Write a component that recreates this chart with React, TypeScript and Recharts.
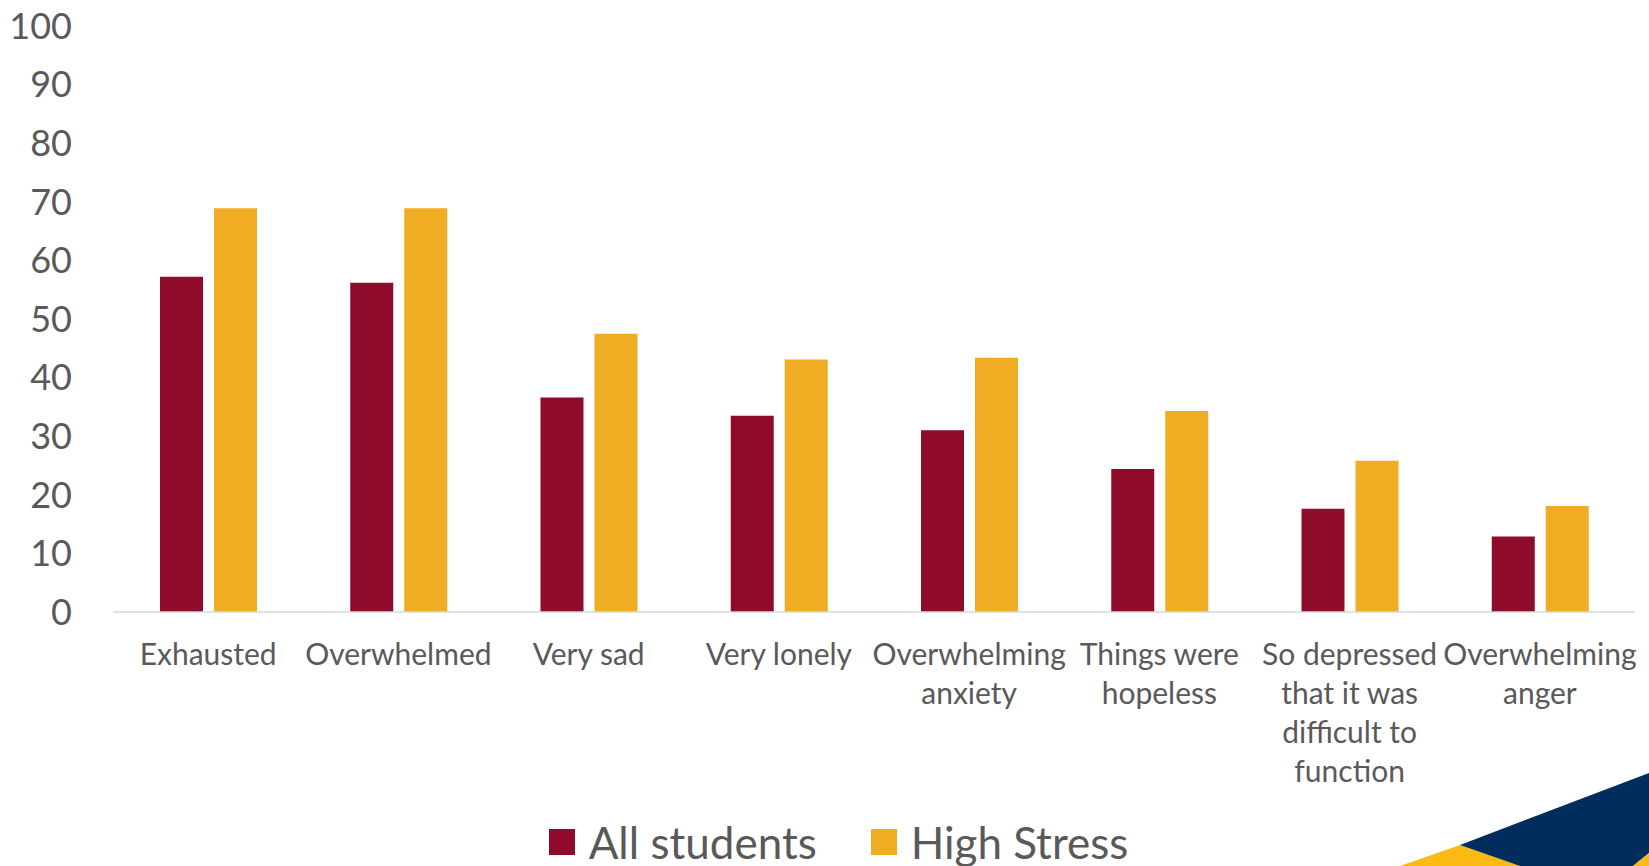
import { BarChart, Bar, XAxis, YAxis, Legend } from "recharts";

const categories = [
    "Exhausted",
    "Overwhelmed",
    "Very sad",
    "Very lonely",
    "Overwhelming\nanxiety",
    "Things were\nhopeless",
    "So depressed\nthat it was\ndifficult to\nfunction",
    "Overwhelming\nanger"
];
const allStudents = [57.2, 56.2, 36.6, 33.5, 31.0, 24.4, 17.6, 12.9];
const highStress = [68.9, 68.9, 47.5, 43.1, 43.4, 34.3, 25.8, 18.1];
const yTicks = [0, 10, 20, 30, 40, 50, 60, 70, 80, 90, 100];

const MAROON = "#8E0B2B";
const GOLD = "#F0AC22";
const TEXT = "#595959";
const FONT = "Lato, 'Open Sans', sans-serif";

const data = categories.map((c, i) => ({
    name: c,
    all: allStudents[i],
    high: highStress[i]
}));

function CategoryTick({ x, y, payload }: any) {
    const lines = String(payload.value).split("\n");
    return (
        <text x={x} y={y + 53} textAnchor="middle" fill={TEXT} fontSize={30} fontFamily={FONT}>
            {lines.map((l, i) => (
                <tspan key={i} x={x} dy={i === 0 ? 0 : 39}>{l}</tspan>
            ))}
        </text>
    );
}

function LegendContent({ payload }: any) {
    return (
        <div style={{ display: "flex", justifyContent: "center", alignItems: "center", fontFamily: FONT, fontSize: 44, color: TEXT, paddingLeft: 28 }}>
            {(payload ?? []).map((p: any, i: number) => (
                <div key={i} style={{ display: "flex", alignItems: "center", marginRight: i === 0 ? 54 : 0 }}>
                    <span style={{ width: 26, height: 26, background: p.color, display: "inline-block", marginRight: 14 }} />
                    <span style={{ lineHeight: "50px" }}>{p.value}</span>
                </div>
            ))}
        </div>
    );
}

export default function App() {
    return (
        <div style={{ position: "absolute", top: 0, left: 0, width: 1649, height: 866, background: "#fff", overflow: "hidden" }}>
            <BarChart
                width={1649}
                height={866}
                data={data}
                margin={{ top: 26, right: 14, left: 0, bottom: 0 }}
                barSize={43}
                barGap={11}
            >
                <XAxis
                    dataKey="name"
                    height={254}
                    tickLine={false}
                    tickSize={0}
                    tickMargin={0}
                    axisLine={{ stroke: "#D9D9D9", strokeWidth: 1.5 }}
                    tick={<CategoryTick />}
                    interval={0}
                />
                <YAxis
                    domain={[0, 100]}
                    ticks={yTicks}
                    width={113}
                    axisLine={false}
                    tickLine={false}
                    tickSize={0}
                    tickMargin={41}
                    tick={{ fill: TEXT, fontSize: 36, fontFamily: FONT }}
                    interval={0}
                />
                <Legend
                    layout="horizontal"
                    verticalAlign="middle"
                    align="center"
                    wrapperStyle={{ top: 817, left: 0, width: 1649 }}
                    content={<LegendContent />}
                />
                <Bar dataKey="all" name="All students" fill={MAROON} isAnimationActive={false} />
                <Bar dataKey="high" name="High Stress" fill={GOLD} isAnimationActive={false} />
            </BarChart>
            <svg width={1649} height={866} style={{ position: "absolute", top: 0, left: 0, pointerEvents: "none" }}>
                <polygon points="1400,866 1460,845 1520,866" fill="#FDB913" />
                <polygon points="1460,845 1649,773 1649,853 1633,866 1520,866" fill="#002D5C" />
                <polygon points="1633,866 1649,853 1649,866" fill="#FDB913" />
            </svg>
        </div>
    );
}
